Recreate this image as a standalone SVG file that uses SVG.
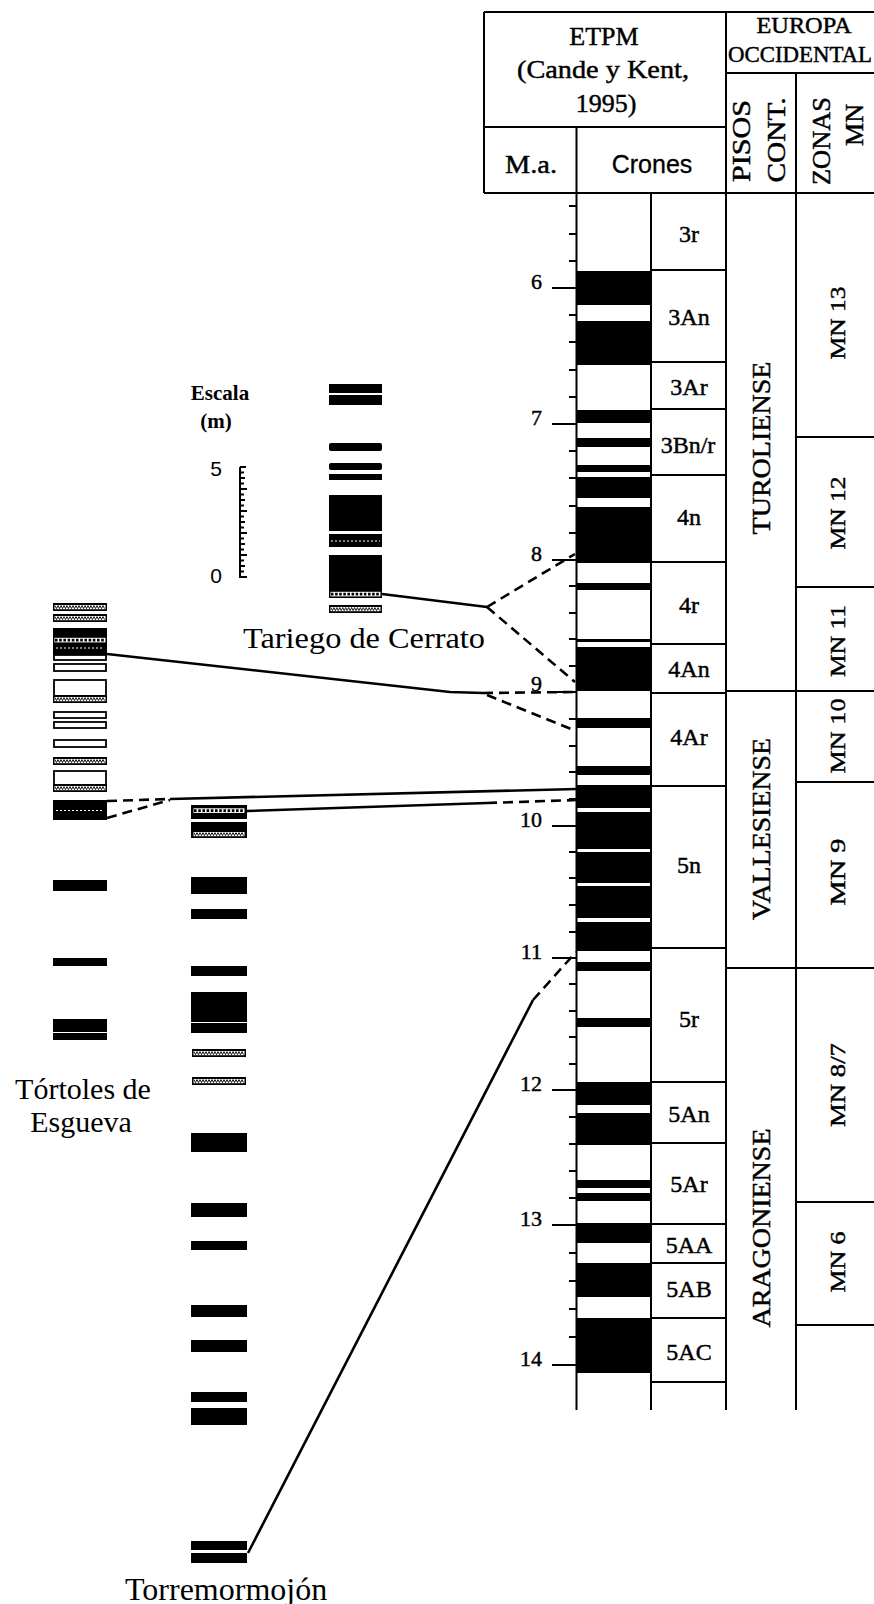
<svg xmlns="http://www.w3.org/2000/svg" width="874" height="1604" viewBox="0 0 874 1604">
<style>
.ln{stroke:#000;stroke-width:2;fill:none}
.tk{stroke:#000;stroke-width:2}
.cn{stroke:#000;stroke-width:2.6;fill:none}
.ds{stroke:#000;stroke-width:2.6;fill:none;stroke-dasharray:10 6}
.t{font-family:"Liberation Serif","Times New Roman",serif;fill:#000}
.h{stroke:#000;stroke-width:0.45}
.s{font-family:"Liberation Sans",Arial,sans-serif;fill:#000}
.o{fill:#fff;stroke:#000;stroke-width:1.8}
.w{stroke:#fff;stroke-width:1.2;stroke-dasharray:2 2}
</style>
<defs>
<g id="wv"><rect x="0" y="0" width="54" height="8" fill="#000"/><rect x="1.5" y="2" width="51" height="4.2" fill="#fff"/><path d="M2,2.6 l1.5,3 l1.5,-3 l1.5,3 l1.5,-3 l1.5,3 l1.5,-3 l1.5,3 l1.5,-3 l1.5,3 l1.5,-3 l1.5,3 l1.5,-3 l1.5,3 l1.5,-3 l1.5,3 l1.5,-3 l1.5,3 l1.5,-3 l1.5,3 l1.5,-3 l1.5,3 l1.5,-3 l1.5,3 l1.5,-3 l1.5,3 l1.5,-3 l1.5,3 l1.5,-3 l1.5,3 l1.5,-3 l1.5,3 l1.5,-3 l1.5,3" fill="none" stroke="#000" stroke-width="0.9"/></g>
<g id="ci"><rect x="0" y="0" width="54" height="8" fill="#000"/><rect x="1.5" y="1.8" width="51" height="4.6" fill="#fff"/><path d="M2,4.1 h50" fill="none" stroke="#000" stroke-width="2.6" stroke-dasharray="2.6 1.6"/></g>
</defs>
<rect width="874" height="1604" fill="#fff"/>

<g id="header">
<path class="ln" d="M484,12 H874 M484,12 V193 M484,193 H874 M484,127 H726 M726,73 H874 M726,12 V193 M796,73 V193 M576.5,127 V193"/>
<g class="t h">
<text x="604" y="45" font-size="26" text-anchor="middle">ETPM</text>
<text x="603" y="78" font-size="26" text-anchor="middle" textLength="172" lengthAdjust="spacingAndGlyphs">(Cande y Kent,</text>
<text x="606" y="112" font-size="26" text-anchor="middle">1995)</text>
<text x="531" y="173" font-size="26" text-anchor="middle" textLength="52" lengthAdjust="spacingAndGlyphs">M.a.</text>
<text x="804" y="33" font-size="22.5" text-anchor="middle" textLength="95" lengthAdjust="spacingAndGlyphs">EUROPA</text>
<text x="800" y="62" font-size="22.5" text-anchor="middle" textLength="144" lengthAdjust="spacingAndGlyphs">OCCIDENTAL</text>
<text transform="translate(750,141) rotate(-90)" font-size="25" text-anchor="middle" textLength="82" lengthAdjust="spacingAndGlyphs">PISOS</text>
<text transform="translate(785,140) rotate(-90)" font-size="25" text-anchor="middle" textLength="85" lengthAdjust="spacingAndGlyphs">CONT.</text>
<text transform="translate(830,141) rotate(-90)" font-size="25" text-anchor="middle" textLength="88" lengthAdjust="spacingAndGlyphs">ZONAS</text>
<text transform="translate(863,125) rotate(-90)" font-size="25" text-anchor="middle" textLength="42" lengthAdjust="spacingAndGlyphs">MN</text>
</g>
<text class="s" x="652" y="173" font-size="25" text-anchor="middle" stroke="#000" stroke-width="0.3">Crones</text>
</g>

<g id="age-scale">
<path class="ln" d="M576.5,193 V1410"/>
<path class="tk" d="M569,206 H577 M569,234 H577 M569,261 H577
M552,288 H577 M569,315 H577 M569,342 H577 M569,370 H577 M569,397 H577
M552,424 H577 M569,451 H577 M569,478 H577 M569,506 H577 M569,533 H577
M552,560 H577 M569,586 H577 M569,613 H577 M569,639 H577 M569,666 H577
M552,692 H577 M569,719 H577 M569,746 H577 M569,772 H577 M569,799 H577
M552,826 H577 M569,852 H577 M569,878 H577 M569,905 H577 M569,932 H577
M552,958 H577 M569,984 H577 M569,1011 H577 M569,1037 H577 M569,1064 H577
M552,1090 H577 M569,1117 H577 M569,1144 H577 M569,1171 H577 M569,1198 H577
M552,1225 H577 M569,1253 H577 M569,1281 H577 M569,1309 H577 M569,1337 H577
M552,1365 H577"/>
<g class="t h" font-size="22" text-anchor="end">
<text x="542" y="289">6</text>
<text x="542" y="425">7</text>
<text x="542" y="561">8</text>
<text x="542" y="691">9</text>
<text x="542" y="827">10</text>
<text x="542" y="959">11</text>
<text x="542" y="1091">12</text>
<text x="542" y="1226">13</text>
<text x="542" y="1366">14</text>
</g>
</g>

<g id="polarity" fill="#000">
<rect x="576" y="271" width="75" height="34"/>
<rect x="576" y="321" width="75" height="44"/>
<rect x="576" y="410" width="75" height="13"/>
<rect x="576" y="438" width="75" height="9"/>
<rect x="576" y="465" width="75" height="7"/>
<rect x="576" y="477" width="75" height="21"/>
<rect x="576" y="507" width="75" height="56"/>
<rect x="576" y="583" width="75" height="7"/>
<rect x="576" y="639" width="75" height="3"/>
<rect x="576" y="647" width="75" height="44"/>
<rect x="576" y="718" width="75" height="10"/>
<rect x="576" y="766" width="75" height="9"/>
<rect x="576" y="785" width="75" height="23"/>
<rect x="576" y="812" width="75" height="37"/>
<rect x="576" y="852" width="75" height="31"/>
<rect x="576" y="886" width="75" height="32"/>
<rect x="576" y="922" width="75" height="29"/>
<rect x="576" y="962" width="75" height="9"/>
<rect x="576" y="1018" width="75" height="9"/>
<rect x="576" y="1082" width="75" height="23"/>
<rect x="576" y="1113" width="75" height="32"/>
<rect x="576" y="1180" width="75" height="8"/>
<rect x="576" y="1193" width="75" height="8"/>
<rect x="576" y="1223" width="75" height="20"/>
<rect x="576" y="1263" width="75" height="34"/>
<rect x="576" y="1318" width="75" height="55"/>
</g>

<g id="crones">
<path class="ln" d="M651,193 V1410 M651,270 H726 M651,362 H726 M651,409 H726 M651,475 H726 M651,562 H726 M651,644 H726 M651,693 H726 M651,786 H726 M651,948 H726 M651,1082 H726 M651,1143 H726 M651,1224 H726 M651,1263 H726 M651,1318 H726 M651,1382 H726"/>
<g class="t h" font-size="24" text-anchor="middle">
<text x="689" y="242">3r</text>
<text x="689" y="325">3An</text>
<text x="689" y="395">3Ar</text>
<text x="688" y="453">3Bn/r</text>
<text x="689" y="525">4n</text>
<text x="689" y="613">4r</text>
<text x="689" y="677">4An</text>
<text x="689" y="745">4Ar</text>
<text x="689" y="873">5n</text>
<text x="689" y="1027">5r</text>
<text x="689" y="1122">5An</text>
<text x="689" y="1192">5Ar</text>
<text x="689" y="1253">5AA</text>
<text x="689" y="1297">5AB</text>
<text x="689" y="1360">5AC</text>
</g>
</g>

<g id="pisos">
<path class="ln" d="M726,193 V1410 M726,691 H796 M726,968 H796"/>
<g class="t h" font-size="26" text-anchor="middle">
<text transform="translate(770,448) rotate(-90)" textLength="173" lengthAdjust="spacingAndGlyphs">TUROLIENSE</text>
<text transform="translate(770,829) rotate(-90)" textLength="182" lengthAdjust="spacingAndGlyphs">VALLESIENSE</text>
<text transform="translate(770,1228) rotate(-90)" textLength="199" lengthAdjust="spacingAndGlyphs">ARAGONIENSE</text>
</g>
</g>

<g id="zonas">
<path class="ln" d="M796,193 V1410 M796,437 H874 M796,587 H874 M796,691 H874 M796,782 H874 M796,968 H874 M796,1202 H874 M796,1325 H874"/>
<g class="t h" font-size="22" text-anchor="middle">
<text transform="translate(845,323) rotate(-90)" textLength="73" lengthAdjust="spacingAndGlyphs">MN 13</text>
<text transform="translate(845,513) rotate(-90)" textLength="73" lengthAdjust="spacingAndGlyphs">MN 12</text>
<text transform="translate(845,641) rotate(-90)" textLength="72" lengthAdjust="spacingAndGlyphs">MN 11</text>
<text transform="translate(845,736) rotate(-90)" textLength="75" lengthAdjust="spacingAndGlyphs">MN 10</text>
<text transform="translate(845,872) rotate(-90)" textLength="67" lengthAdjust="spacingAndGlyphs">MN 9</text>
<text transform="translate(845,1085) rotate(-90)" textLength="84" lengthAdjust="spacingAndGlyphs">MN 8/7</text>
<text transform="translate(845,1262) rotate(-90)" textLength="61" lengthAdjust="spacingAndGlyphs">MN 6</text>
</g>
</g>

<g id="escala">
<text class="t" x="220" y="400" font-size="21" font-weight="bold" text-anchor="middle">Escala</text>
<text class="t" x="216" y="428" font-size="21" font-weight="bold" text-anchor="middle">(m)</text>
<text class="s" x="222" y="476" font-size="21" text-anchor="end">5</text>
<text class="s" x="222" y="583" font-size="21" text-anchor="end">0</text>
<path class="ln" stroke-width="1.5" d="M240,467 V577 H247 M240,467 H246
M240,472.5 H244 M240,478 H245 M240,483.5 H244 M240,489 H247 M240,494.5 H244 M240,500 H245 M240,505.5 H244 M240,511 H247 M240,516.5 H244 M240,522 H245 M240,527.5 H244 M240,533 H247 M240,538.5 H244 M240,544 H245 M240,549.5 H244 M240,555 H247 M240,560.5 H244 M240,566 H245 M240,571.5 H244"/>
</g>

<g id="tariego">
<g fill="#000">
<rect x="329" y="384" width="53" height="9"/>
<rect x="329" y="395" width="53" height="10"/>
<rect x="329" y="443" width="53" height="8" rx="2"/>
<rect x="329" y="463" width="53" height="7" rx="2"/>
<rect x="329" y="474" width="53" height="6"/>
<rect x="329" y="495" width="53" height="36"/>
<rect x="329" y="534" width="53" height="13"/>
<rect x="329" y="555" width="53" height="36"/>
</g>
<path class="w" d="M331,541 H380"/>
<use href="#ci" transform="translate(329,590) scale(0.98,1)"/>
<use href="#wv" transform="translate(329,605) scale(0.98,1)"/>
<text class="t" x="243" y="648" font-size="30" textLength="242" lengthAdjust="spacingAndGlyphs">Tariego de Cerrato</text>
</g>

<g id="tortoles">
<use href="#wv" x="53" y="603"/>
<use href="#wv" x="53" y="614"/>
<rect x="53" y="628" width="54" height="27" fill="#000"/>
<use href="#ci" x="53" y="636"/>
<path class="w" d="M56,648 H104"/>
<rect class="o" x="54" y="655" width="52" height="5"/>
<rect class="o" x="54" y="664" width="52" height="7"/>
<rect class="o" x="54" y="680" width="52" height="16"/>
<use href="#wv" x="53" y="695"/>
<rect class="o" x="54" y="712" width="52" height="6"/>
<rect class="o" x="54" y="722" width="52" height="6"/>
<rect class="o" x="54" y="740" width="52" height="7"/>
<use href="#wv" x="53" y="757"/>
<rect class="o" x="54" y="771" width="52" height="14"/>
<use href="#wv" x="53" y="784"/>
<rect x="53" y="800" width="54" height="20" fill="#000"/>
<path class="w" d="M56,810.5 H104"/>
<g fill="#000">
<rect x="53" y="880" width="54" height="11"/>
<rect x="53" y="958" width="54" height="8"/>
<rect x="53" y="1019" width="54" height="13"/>
<rect x="53" y="1033" width="54" height="7"/>
</g>
<text class="t" x="83" y="1099" font-size="30" text-anchor="middle">Tórtoles de</text>
<text class="t" x="81" y="1132" font-size="30" text-anchor="middle">Esgueva</text>
</g>

<g id="torremormojon">
<rect x="191" y="805" width="56" height="14" fill="#000"/>
<use href="#ci" transform="translate(192,806.5)"/>
<rect x="191" y="822" width="56" height="16" fill="#000"/>
<use href="#wv" transform="translate(192,830)"/>
<g fill="#000">
<rect x="191" y="877" width="56" height="17"/>
<rect x="191" y="909" width="56" height="10"/>
<rect x="191" y="966" width="56" height="10"/>
<rect x="191" y="992" width="56" height="30"/>
<rect x="191" y="1023" width="56" height="10"/>
<rect x="191" y="1133" width="56" height="19"/>
<rect x="191" y="1203" width="56" height="14"/>
<rect x="191" y="1241" width="56" height="9"/>
<rect x="191" y="1305" width="56" height="12"/>
<rect x="191" y="1340" width="56" height="12"/>
<rect x="191" y="1392" width="56" height="10"/>
<rect x="191" y="1408" width="56" height="17"/>
<rect x="191" y="1541" width="56" height="9"/>
<rect x="191" y="1553" width="56" height="10"/>
</g>
<use href="#wv" transform="translate(192,1049)"/>
<use href="#wv" transform="translate(192,1077)"/>
<text class="t" x="125" y="1600" font-size="32">Torremormojón</text>
</g>

<g id="connectors">
<polyline class="cn" points="382,594 487,607"/>
<polyline class="ds" points="487,607 575,554"/>
<polyline class="ds" points="487,607 575,682"/>
<polyline class="cn" points="107,654 450,692 483,693"/>
<polyline class="ds" points="483,693 576,692"/>
<polyline class="ds" points="487,695 576,731"/>
<polyline class="ds" points="107,801 170,799"/>
<polyline class="ds" points="107,818 170,800"/>
<polyline class="cn" points="170,799 577,789"/>
<polyline class="cn" points="247,811 487,803"/>
<polyline class="ds" points="487,803 577,800"/>
<polyline class="cn" points="248,1553 533,1000"/>
<polyline class="ds" points="533,1000 576,952"/>
</g>
</svg>
